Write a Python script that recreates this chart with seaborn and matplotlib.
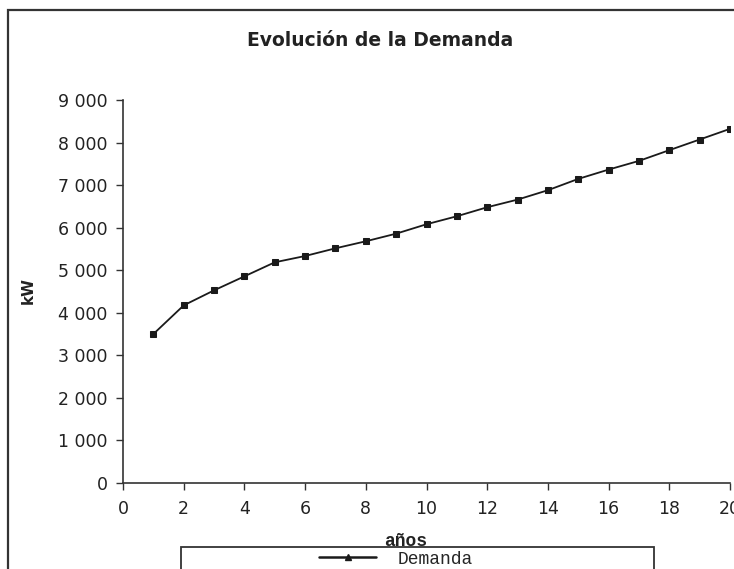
import matplotlib
matplotlib.use("Agg")
import matplotlib.pyplot as plt
import seaborn as sns
import pandas as pd
from matplotlib.patches import Rectangle
from matplotlib.lines import Line2D
from matplotlib.ticker import FuncFormatter

anios = list(range(1, 21))
demanda = [3500, 4174, 4527, 4856, 5186, 5334, 5515, 5680, 5859, 6080,
           6268, 6480, 6659, 6880, 7146, 7365, 7569, 7821, 8071, 8322]
x_ticks = [0, 2, 4, 6, 8, 10, 12, 14, 16, 18, 20]
y_ticks = [0, 1000, 2000, 3000, 4000, 5000, 6000, 7000, 8000, 9000]
titulo = "Evolución de la Demanda"
serie = "Demanda"

df = pd.DataFrame({"años": anios, "kW": demanda, "serie": serie})

sns.set_style("white")
plt.rcParams["font.family"] = ["DejaVu Sans"]

fig = plt.figure(figsize=(7.34, 5.69), dpi=100)
W, H = 734, 569
# outer frame
fig.patches.append(Rectangle((8 / W, -0.05), 1.1, (H - 10) / H + 0.05, transform=fig.transFigure,
                             fill=False, edgecolor="#333333", linewidth=1.6, clip_on=False))

ax = fig.add_axes([123 / W, (H - 483) / H, (730 - 123) / W, (483 - 100) / H])
sns.lineplot(data=df, x="años", y="kW", hue="serie", palette=["#1a1a1a"], marker="s",
             markersize=5, markeredgecolor="#1a1a1a", linewidth=1.3, ax=ax, legend=False)

ax.set_xlim(0, 20)
ax.set_ylim(0, 9000)
ax.set_xticks(x_ticks)
ax.set_yticks(y_ticks)
ax.yaxis.set_major_formatter(FuncFormatter(lambda v, p: f"{int(v):,}".replace(",", " ")))
for s in ["top", "right"]:
    ax.spines[s].set_visible(False)
for s in ["left", "bottom"]:
    ax.spines[s].set_color("#333333")
    ax.spines[s].set_linewidth(1.2)
ax.tick_params(axis="both", left=True, bottom=True, direction="out", length=5, width=1,
               color="#333333", labelsize=12.5, labelcolor="#222222")
ax.tick_params(axis="y", pad=6)
ax.tick_params(axis="x", pad=7)
ax.set_xlabel("")
ax.set_ylabel("")

fig.text(380 / W, 1 - 40 / H, titulo, ha="center", va="center", fontsize=13.5,
         fontweight="bold", color="#222222")
fig.text(28 / W, 1 - 290 / H, "kW", ha="center", va="center", rotation=90,
         fontsize=11, fontweight="bold", color="#222222")
fig.text(406 / W, 1 - 541 / H, "años", ha="center", va="center", fontsize=13,
         fontweight="bold", family=["Liberation Mono", "DejaVu Sans Mono"], color="#222222")

# legend box
h = Line2D([], [], color="#1a1a1a", linewidth=1.8, marker="^", markersize=4)
fig.patches.append(Rectangle((181 / W, -0.02), (654 - 181) / W, (569 - 547) / H + 0.02,
                             transform=fig.transFigure, fill=True, facecolor="white",
                             edgecolor="#333333", linewidth=1.3))
leg = fig.legend([h], [serie], loc="center", bbox_to_anchor=(396 / W, 1 - 559 / H),
                 frameon=False, handlelength=3.2, handletextpad=1.2,
                 prop={"family": ["Liberation Mono", "DejaVu Sans Mono"], "size": 13})

fig.savefig("out.png", dpi=100)
